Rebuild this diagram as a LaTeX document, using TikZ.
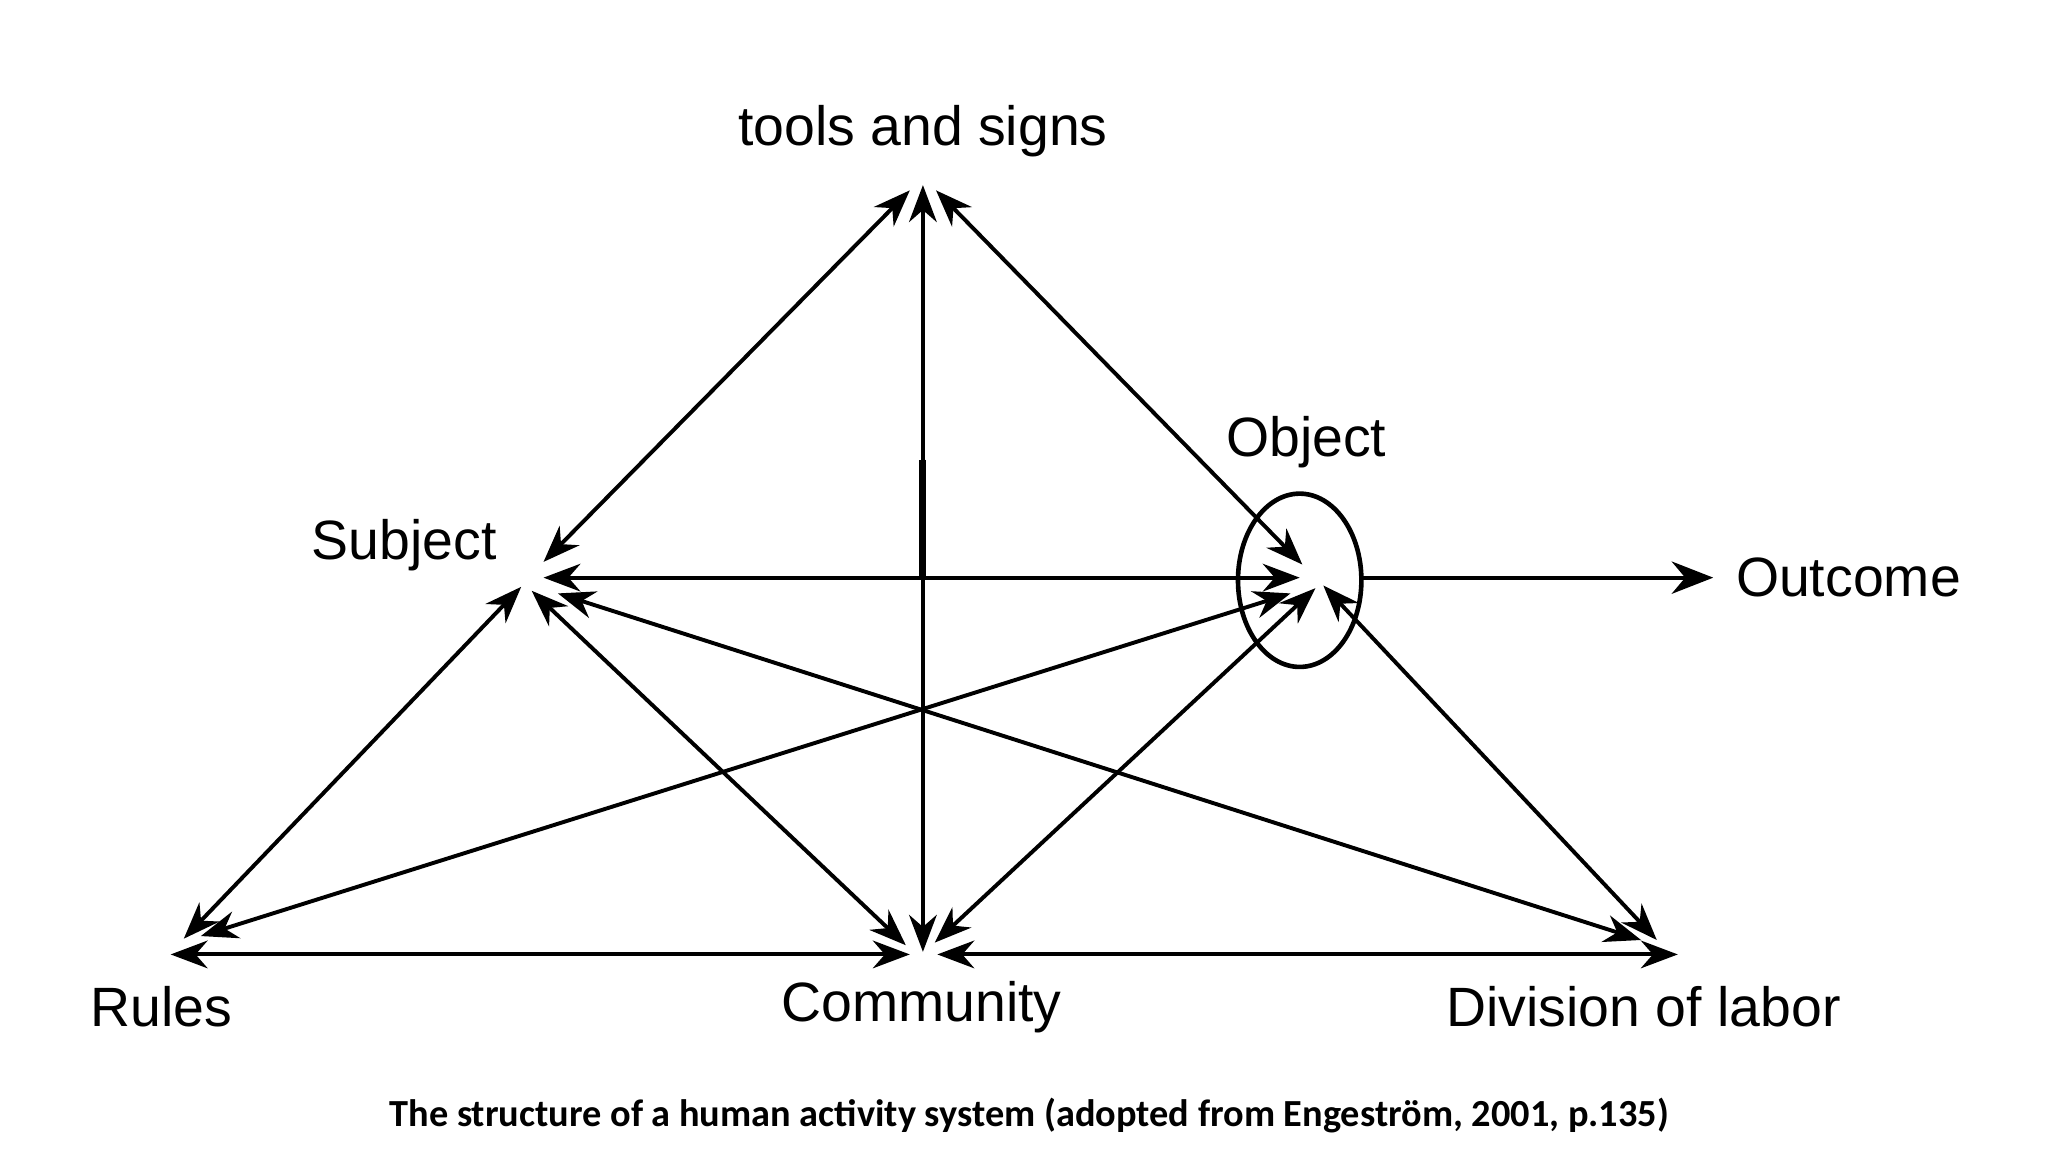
\documentclass[tikz,border=0pt]{standalone}
\usepackage{fontspec}
\setmainfont{Liberation Sans}
\newfontfamily\capfont{Carlito}
\usetikzlibrary{arrows.meta}
\begin{document}
\begin{tikzpicture}[x=0.01cm,y=-0.01cm,
  lbl/.style={font=\fontsize{12}{14}\selectfont,inner sep=0pt},
  conn/.style={{Stealth[length=8pt,width=6pt]}-{Stealth[length=8pt,width=6pt]},line width=0.85pt}]
\useasboundingbox (0,0) rectangle (1560,878);
\node[lbl] (lt) at (703,100) {tools and signs};
\node[lbl] (ls) at (308,415) {Subject};
\node[lbl] (lo) at (995,337) {Object};
\node[lbl] (lout) at (1408,440) {Outcome};
\node[lbl] (lr) at (123,767) {Rules};
\node[lbl] (lc) at (702,767) {Community};
\node[lbl] (ld) at (1252,767) {Division of labor};
\node[font=\capfont\bfseries\fontsize{8.3}{10}\selectfont] (cap) at (784,850) {The structure of a human activity system (adopted from Engeström, 2001, p.135)};
% anchor coordinates
\coordinate (T1) at (693,145); \coordinate (T2) at (703,141); \coordinate (T3) at (713,145);
\coordinate (S1) at (414,428); \coordinate (S2) at (414,440); \coordinate (S3) at (397,447);
\coordinate (S4) at (405,450); \coordinate (S5) at (425,452);
\coordinate (O1) at (992,430); \coordinate (O2) at (990,440); \coordinate (O3) at (983,452);
\coordinate (O4) at (1002,448); \coordinate (O5) at (1008,446);
\coordinate (R1) at (140,715); \coordinate (R2) at (153,713); \coordinate (R3) at (130,727);
\coordinate (C1) at (690,720); \coordinate (C2) at (703,725); \coordinate (C3) at (712,718);
\coordinate (C4) at (693,727); \coordinate (C5) at (714,727);
\coordinate (D1) at (1262,716); \coordinate (D2) at (1250,716); \coordinate (D3) at (1278,727);
\coordinate (oe) at (1037,440); \coordinate (oa) at (1305,440);
\coordinate (m1) at (703,350); \coordinate (m2) at (703,440);
\draw[conn] (T1) -- (S1);
\draw[conn] (T3) -- (O1);
\draw[conn] (T2) -- (C2);
\draw[line width=1.5pt] (m1) -- (m2);
\draw[conn] (S2) -- (O2);
\draw[conn] (S3) -- (R1);
\draw[conn] (S4) -- (C1);
\draw[conn] (S5) -- (D2);
\draw[conn] (O3) -- (R2);
\draw[conn] (O4) -- (C3);
\draw[conn] (O5) -- (D1);
\draw[conn] (R3) -- (C4);
\draw[conn] (C5) -- (D3);
\draw[line width=1pt] (990,442) ellipse (47 and 66);
\draw[line width=0.85pt,-{Stealth[length=9pt,width=7pt]}] (oe) -- (oa);
\end{tikzpicture}
\end{document}
